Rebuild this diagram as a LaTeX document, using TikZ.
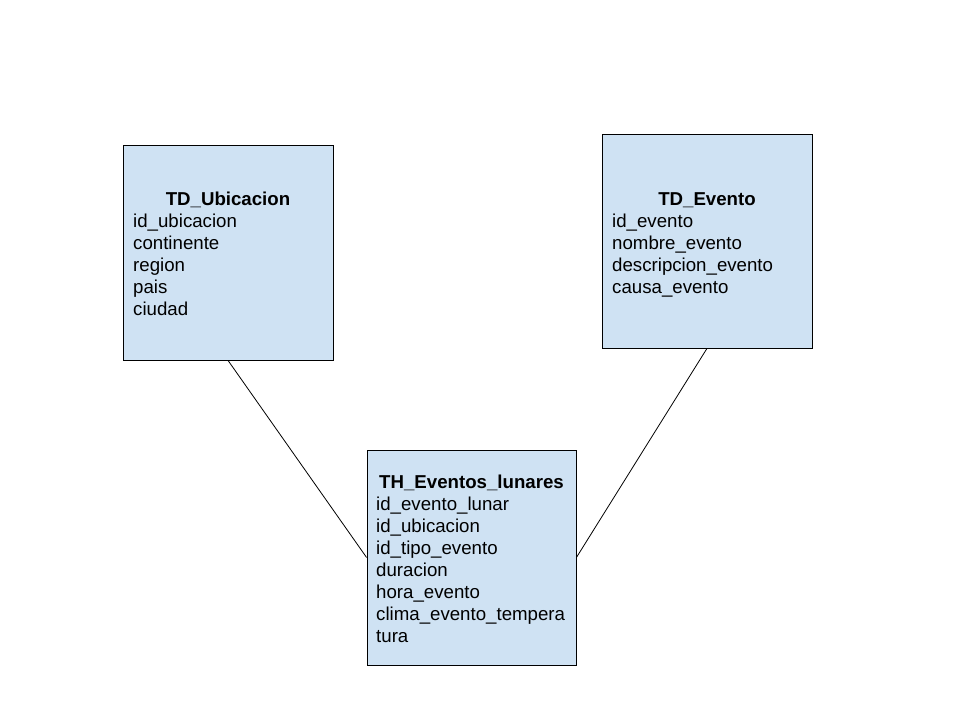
\documentclass[tikz,border=0pt]{standalone}
\usepackage{fontspec}
\setmainfont{Liberation Sans}
\usepackage{xcolor}
\usetikzlibrary{positioning}
\definecolor{tablefill}{HTML}{CFE2F3}
\begin{document}
\begin{tikzpicture}[x=1pt, y=-1pt,
        tabla/.style={rectangle, draw, fill=tablefill, line width=0.8pt, minimum width=210pt, minimum height=215pt, inner sep=0pt},
        titulo/.style={font=\fontsize{18.67}{22}\selectfont\bfseries, inner sep=0pt, anchor=base},
        campos/.style={font=\fontsize{18.67}{22}\selectfont, align=left, inner sep=0pt, anchor=base west},
        enlace/.style={line width=0.8pt}
    ]
        \useasboundingbox (0,0) rectangle (960,720);

        % Dimension ubicacion (campos: base de la ultima linea)
        \node[tabla] (ubic) at (228,252.5) {};
        \node[titulo] (ubict) at (228,205) {TD\_Ubicacion};
        \node[campos] (ubicc) at (133,315) {id\_ubicacion\\continente\\region\\pais\\ciudad};

        % Dimension evento
        \node[tabla, minimum height=214pt] (evt) at (707,241) {};
        \node[titulo] (evtt) at (707,205) {TD\_Evento};
        \node[campos] (evtc) at (612,293) {id\_evento\\nombre\_evento\\descripcion\_evento\\causa\_evento};

        % Tabla de hechos
        \node[tabla, minimum width=209pt] (hecho) at (471.5,557.5) {};
        \node[titulo] (hechot) at (471.5,488) {TH\_Eventos\_lunares};
        \node[campos] (hechoc) at (376,642) {id\_evento\_lunar\\id\_ubicacion\\id\_tipo\_evento\\duracion\\hora\_evento\\clima\_evento\_tempera\\tura};

        % Relaciones
        \draw[enlace] (ubic.south) -- (hecho.west);
        \draw[enlace] (evt.south) -- (hecho.east);
    \end{tikzpicture}
\end{document}
